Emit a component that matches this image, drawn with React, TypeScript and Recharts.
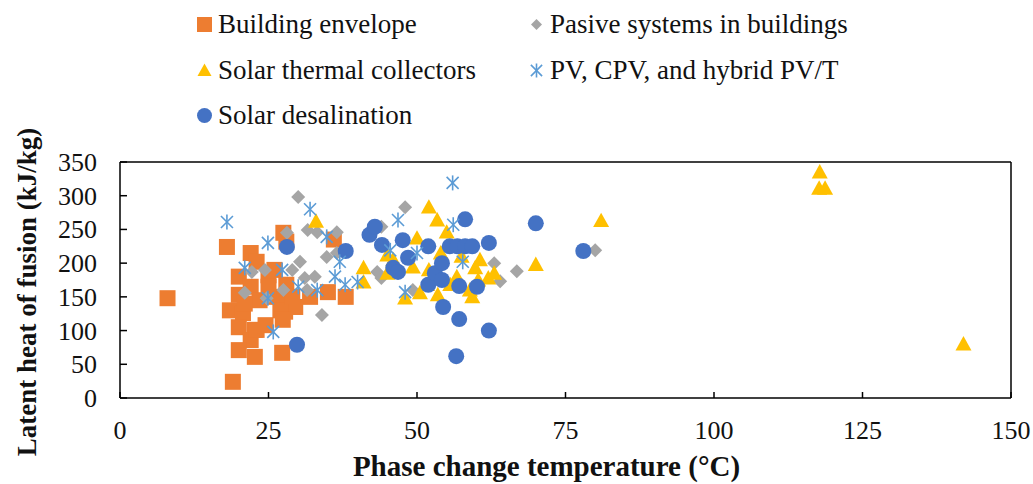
import React from "react";
import { ScatterChart, Scatter, XAxis, YAxis, ReferenceLine, Legend, Label } from "recharts";

// [phase change temperature (°C), latent heat of fusion (kJ/kg)]
const buildingEnvelope = [
  [8, 148], [18, 224], [22, 215], [23, 202], [20, 180], [25, 182], [26, 190],
  [27.5, 245], [28, 232], [36, 235], [32, 150], [35, 157], [38, 150], [28, 168],
  [22, 165], [20, 153], [23.5, 145], [26, 150], [28.5, 145], [18.5, 130],
  [20.7, 126], [27.8, 128], [29.5, 135], [27, 130], [20, 105], [22.7, 101],
  [27.4, 116], [22, 86], [20, 71], [22.7, 61], [27.3, 67], [19, 24], [23, 101],
  [24.5, 108], [21, 140], [29, 150], [25, 165],
];
const pasiveSystems = [
  [21, 156], [22.2, 187], [24.4, 190], [24.7, 148], [27.5, 160], [28.1, 245],
  [29, 190], [30, 298], [30.3, 202], [31.1, 178], [31.6, 249], [32.8, 180],
  [33.2, 246], [34, 123], [34.8, 209], [36.5, 246], [36.5, 215], [31.5, 160],
  [43.3, 187], [44, 178], [44, 254], [48, 283], [49.3, 160], [63, 200],
  [64, 173], [66.8, 188], [80, 219],
];
const solarCollectors = [
  [33, 262], [41, 193], [41, 172], [45, 212], [45, 185], [48, 148], [49.3, 194],
  [50, 237], [50.5, 156], [51.7, 168], [52, 283], [53.4, 264], [53.5, 153],
  [55, 246], [55.6, 168], [56.7, 180], [57.5, 210], [58.9, 160], [59.3, 150],
  [59.8, 193], [60.3, 175], [60.6, 205], [63, 185], [70, 198], [81, 263],
  [117.8, 335], [117.7, 311], [118.7, 311], [142, 80], [54, 215], [52, 190],
  [46, 205], [62, 178],
];
const pvSystems = [
  [18, 261], [21, 193], [24.9, 230], [24.9, 148], [25.8, 98], [27.3, 190],
  [30, 165], [32, 280], [33.2, 160], [34.8, 239], [36.2, 180], [37, 202],
  [37.9, 168], [40, 172], [45.5, 219], [46.8, 264], [48, 157], [50, 215],
  [56, 319], [56.1, 257], [57.7, 202],
];
const solarDesalination = [
  [28.1, 224], [29.8, 79], [38, 218], [42, 242], [42.9, 254], [44.1, 227],
  [46, 193], [46.8, 187], [47.6, 234], [48.5, 208], [51.9, 225], [51.9, 168],
  [53, 185], [54.2, 200], [54.2, 175], [54.4, 135], [55.5, 225], [56.8, 225],
  [58.1, 225], [59.3, 225], [58.1, 265], [62.1, 230], [57.1, 166], [60.1, 165],
  [57.1, 117], [62.1, 100], [56.6, 62], [70, 259], [78, 218],
];

const xTicks = [0, 25, 50, 75, 100, 125, 150];
const yTicks = [0, 50, 100, 150, 200, 250, 300, 350];

const ORANGE = "#ED7D31";
const GRAY = "#A5A5A5";
const GOLD = "#FFC000";
const LIGHTBLUE = "#5B9BD5";
const BLUE = "#4472C4";
const FONT = "'Liberation Serif', 'Times New Roman', serif";

const toPoints = (rows: number[][]) => rows.map(([x, y]) => ({ x, y }));

const Marker = ({ kind, cx, cy, s }: { kind: string; cx: number; cy: number; s: number }) => {
  const h = s / 2;
  if (kind === "square") return <rect x={cx - h} y={cy - h} width={s} height={s} fill={ORANGE} />;
  if (kind === "diamond")
    return <polygon points={`${cx},${cy - h} ${cx + h},${cy} ${cx},${cy + h} ${cx - h},${cy}`} fill={GRAY} />;
  if (kind === "triangle")
    return <polygon points={`${cx},${cy - h} ${cx + h},${cy + h * 0.8} ${cx - h},${cy + h * 0.8}`} fill={GOLD} />;
  if (kind === "star") {
    const d = h * 0.8;
    return (
      <g stroke={LIGHTBLUE} strokeWidth={1.6}>
        <line x1={cx - d} y1={cy - d} x2={cx + d} y2={cy + d} />
        <line x1={cx - d} y1={cy + d} x2={cx + d} y2={cy - d} />
        <line x1={cx} y1={cy - h} x2={cx} y2={cy + h} />
      </g>
    );
  }
  return <circle cx={cx} cy={cy} r={h} fill={BLUE} />;
};

const shapeOf = (kind: string, s: number) => (p: any) => <Marker kind={kind} cx={p.cx} cy={p.cy} s={s} />;

const legendItems = [
  { name: "Building envelope", kind: "square", size: 15, col: 0, row: 0 },
  { name: "Pasive systems in buildings", kind: "diamond", size: 11, col: 1, row: 0 },
  { name: "Solar thermal collectors", kind: "triangle", size: 14, col: 0, row: 1 },
  { name: "PV, CPV, and hybrid PV/T", kind: "star", size: 14, col: 1, row: 1 },
  { name: "Solar desalination", kind: "circle", size: 15, col: 0, row: 2 },
];

const renderLegend = () => (
  <div style={{ position: "relative", width: 1033, height: 140 }}>
    {legendItems.map((it) => (
      <div
        key={it.name}
        style={{
          position: "absolute",
          left: it.col === 0 ? 195 : 527,
          top: [4, 50, 95][it.row],
          height: 40,
          display: "flex",
          alignItems: "center",
          fontFamily: FONT,
          fontSize: 27,
          color: "#111",
          whiteSpace: "nowrap",
        }}
      >
        <svg width={19} height={19} style={{ marginRight: 4 }}>
          <Marker kind={it.kind} cx={9.5} cy={9.5} s={it.size} />
        </svg>
        {it.name}
      </div>
    ))}
  </div>
);

const XTick = ({ x, y, payload }: any) => (
  <g>
    <line x1={x} x2={x} y1={y} y2={y - 6} stroke="#000" strokeWidth={1.5} />
    <text x={x} y={y + 41} textAnchor="middle" fontFamily={FONT} fontSize={26} fill="#111">
      {payload.value}
    </text>
  </g>
);

const YTick = ({ x, y, payload }: any) => (
  <g>
    <line x1={x} x2={x + 7} y1={y} y2={y} stroke="#000" strokeWidth={1.5} />
    <text x={x - 23} y={y + 9} textAnchor="end" fontFamily={FONT} fontSize={26} fill="#111">
      {payload.value}
    </text>
  </g>
);

export default function App() {
  return (
    <div style={{ position: "absolute", left: 0, top: 0, background: "#fff" }}>
      <ScatterChart width={1033} height={484} margin={{ top: 162, right: 22, bottom: 0, left: 0 }}>
        <XAxis
          type="number"
          dataKey="x"
          domain={[0, 150]}
          ticks={xTicks}
          height={86}
          tickSize={0}
          tickMargin={0}
          tickLine={false}
          tick={<XTick />}
          axisLine={{ stroke: "#000", strokeWidth: 1.5 }}
        >
          <Label
            content={({ viewBox }: any) => (
              <text
                x={viewBox.x + viewBox.width / 2 - 19}
                y={476}
                textAnchor="middle"
                fontFamily={FONT}
                fontWeight="bold"
                fontSize={29}
                fill="#111"
              >
                Phase change temperature (°C)
              </text>
            )}
          />
        </XAxis>
        <YAxis
          type="number"
          dataKey="y"
          domain={[0, 350]}
          ticks={yTicks}
          width={120}
          tickSize={0}
          tickMargin={0}
          tickLine={false}
          tick={<YTick />}
          axisLine={{ stroke: "#000", strokeWidth: 1.5 }}
        >
          <Label
            content={() => (
              <text
                x={0}
                y={0}
                transform="translate(36, 292) rotate(-90)"
                textAnchor="middle"
                fontFamily={FONT}
                fontWeight="bold"
                fontSize={27}
                fill="#111"
              >
                Latent heat of fusion (kJ/kg)
              </text>
            )}
          />
        </YAxis>
        <ReferenceLine y={350} stroke="#000" strokeWidth={1.5} />
        <ReferenceLine x={150} stroke="#000" strokeWidth={1.5} />
        <Legend
          layout="horizontal"
          verticalAlign="middle"
          align="center"
          wrapperStyle={{ top: 0, left: 0, width: 1033, height: 140 }}
          content={renderLegend}
        />
        <Scatter name="Building envelope" data={toPoints(buildingEnvelope)} shape={shapeOf("square", 16)} isAnimationActive={false} />
        <Scatter name="Pasive systems in buildings" data={toPoints(pasiveSystems)} shape={shapeOf("diamond", 14)} isAnimationActive={false} />
        <Scatter name="Solar thermal collectors" data={toPoints(solarCollectors)} shape={shapeOf("triangle", 16)} isAnimationActive={false} />
        <Scatter name="Solar desalination" data={toPoints(solarDesalination)} shape={shapeOf("circle", 16)} isAnimationActive={false} />
        <Scatter name="PV, CPV, and hybrid PV/T" data={toPoints(pvSystems)} shape={shapeOf("star", 15)} isAnimationActive={false} />
      </ScatterChart>
    </div>
  );
}
